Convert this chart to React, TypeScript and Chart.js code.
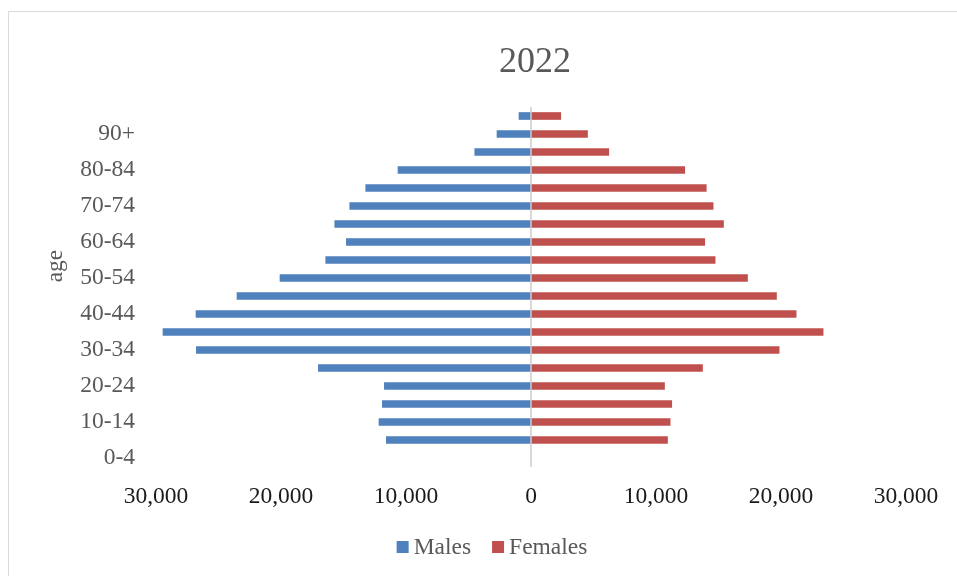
import React, { useEffect, useRef } from "react";
import { Chart, registerables } from "chart.js";

Chart.register(...registerables);

// Age groups, youngest first (the top row carries no label of its own)
const ageGroups = [
  "0-4", "5-9", "10-14", "15-19", "20-24", "25-29", "30-34", "35-39",
  "40-44", "45-49", "50-54", "55-59", "60-64", "65-69", "70-74",
  "75-79", "80-84", "85-89", "90+", "",
];

const males = [
  null, 11570, 12160, 11890, 11730, 17010, 26770, 29440, 26800, 23520,
  20080, 16420, 14770, 15700, 14500, 13220, 10640, 4500, 2720, 960,
];

const females = [
  null, 10920, 11130, 11260, 10680, 13720, 19850, 23370, 21210, 19640,
  17320, 14730, 13900, 15400, 14570, 14020, 12300, 6220, 4520, 2380,
];

const xTicks = [-30000, -20000, -10000, 0, 10000, 20000, 30000];

const chartTitle = "2022";
const axisTitle = "age";
const seriesNames = ["Males", "Females"];
const seriesColors = ["#4F81BD", "#C0504D"];

const FONT = "'Liberation Serif', 'Times New Roman', serif";
const TEXT_GRAY = "#595959";

const fmt = (v: number) => Math.abs(v).toLocaleString("en-US");

// Title, rotated axis caption and bottom legend
const decorations = {
  id: "decorations",
  afterDraw(chart: any) {
    const { ctx, chartArea } = chart;
    ctx.save();
    ctx.fillStyle = TEXT_GRAY;

    // title
    ctx.font = `36px ${FONT}`;
    ctx.textAlign = "center";
    ctx.textBaseline = "alphabetic";
    ctx.fillText(chartTitle, (chartArea.left + chartArea.right) / 2 + 4, 72);

    // y-axis caption
    ctx.save();
    ctx.font = `23.5px ${FONT}`;
    ctx.translate(61.5, 266);
    ctx.rotate(-Math.PI / 2);
    ctx.textAlign = "center";
    ctx.textBaseline = "alphabetic";
    ctx.fillText(axisTitle, 0, 0);
    ctx.restore();

    // legend
    ctx.font = `23.5px ${FONT}`;
    ctx.textAlign = "left";
    ctx.textBaseline = "middle";
    const box = 12;
    const gapBoxText = 5;
    const gapItems = 21;
    const widths = seriesNames.map((n) => box + gapBoxText + ctx.measureText(n).width);
    const total = widths.reduce((a, b) => a + b, 0) + gapItems * (widths.length - 1);
    let x = 492 - total / 2;
    const cy = 547;
    seriesNames.forEach((name, i) => {
      ctx.fillStyle = seriesColors[i];
      ctx.fillRect(x, cy - box / 2, box, box);
      ctx.fillStyle = TEXT_GRAY;
      ctx.fillText(name, x + box + gapBoxText, cy + 1);
      x += widths[i] + gapItems;
    });

    ctx.restore();
  },
};

export default function App() {
  const canvasRef = useRef<HTMLCanvasElement | null>(null);

  useEffect(() => {
    const canvas = canvasRef.current;
    if (!canvas) return;

    const chart = new Chart(canvas, {
      type: "bar",
      data: {
        labels: ageGroups,
        datasets: [
          {
            label: seriesNames[0],
            data: males.map((v) => (v == null ? null : -v)),
            backgroundColor: seriesColors[0],
            barThickness: 7,
          },
          {
            label: seriesNames[1],
            data: females,
            backgroundColor: seriesColors[1],
            barThickness: 7,
          },
        ],
      },
      options: {
        indexAxis: "y",
        responsive: false,
        animation: false,
        layout: { padding: { top: 107, left: 46, right: 51, bottom: 69 } },
        plugins: {
          legend: { display: false },
          title: { display: false },
          tooltip: { enabled: false },
        },
        scales: {
          x: {
            type: "linear",
            min: xTicks[0],
            max: xTicks[xTicks.length - 1],
            afterBuildTicks: (scale: any) => {
              scale.ticks = xTicks.map((value) => ({ value }));
            },
            afterFit: (scale: any) => {
              scale.height = 40;
            },
            border: { display: false },
            grid: {
              drawTicks: false,
              color: (c: any) => (c.tick && c.tick.value === 0 ? "#d9d9d9" : "rgba(0,0,0,0)"),
              lineWidth: 2,
            },
            ticks: {
              autoSkip: false,
              maxRotation: 0,
              padding: 16,
              color: "#1a1a1a",
              font: { family: FONT, size: 23.5 },
              callback: (v: any) => fmt(Number(v)),
            },
          },
          y: {
            stacked: true,
            reverse: true,
            afterFit: (scale: any) => {
              scale.width = 110;
            },
            border: { display: false },
            grid: { display: false, drawTicks: false },
            ticks: {
              autoSkip: false,
              padding: 21,
              color: TEXT_GRAY,
              font: { family: FONT, size: 23.5 },
              callback: function (this: any, value: any, index: number) {
                return index % 2 === 0 ? this.getLabelForValue(value) : "";
              },
            },
          },
        },
      },
      plugins: [decorations],
    });

    return () => chart.destroy();
  }, []);

  return (
    <div style={{ position: "fixed", left: 0, top: 0, width: 957, height: 576, background: "#fff" }}>
      <canvas ref={canvasRef} width={957} height={576} style={{ position: "absolute", left: 0, top: 0 }} />
      <div
        style={{
          position: "absolute",
          left: 8,
          top: 11,
          width: 949,
          height: 565,
          boxSizing: "border-box",
          borderLeft: "1px solid #d9d9d9",
          borderTop: "1px solid #d9d9d9",
          pointerEvents: "none",
        }}
      />
    </div>
  );
}
